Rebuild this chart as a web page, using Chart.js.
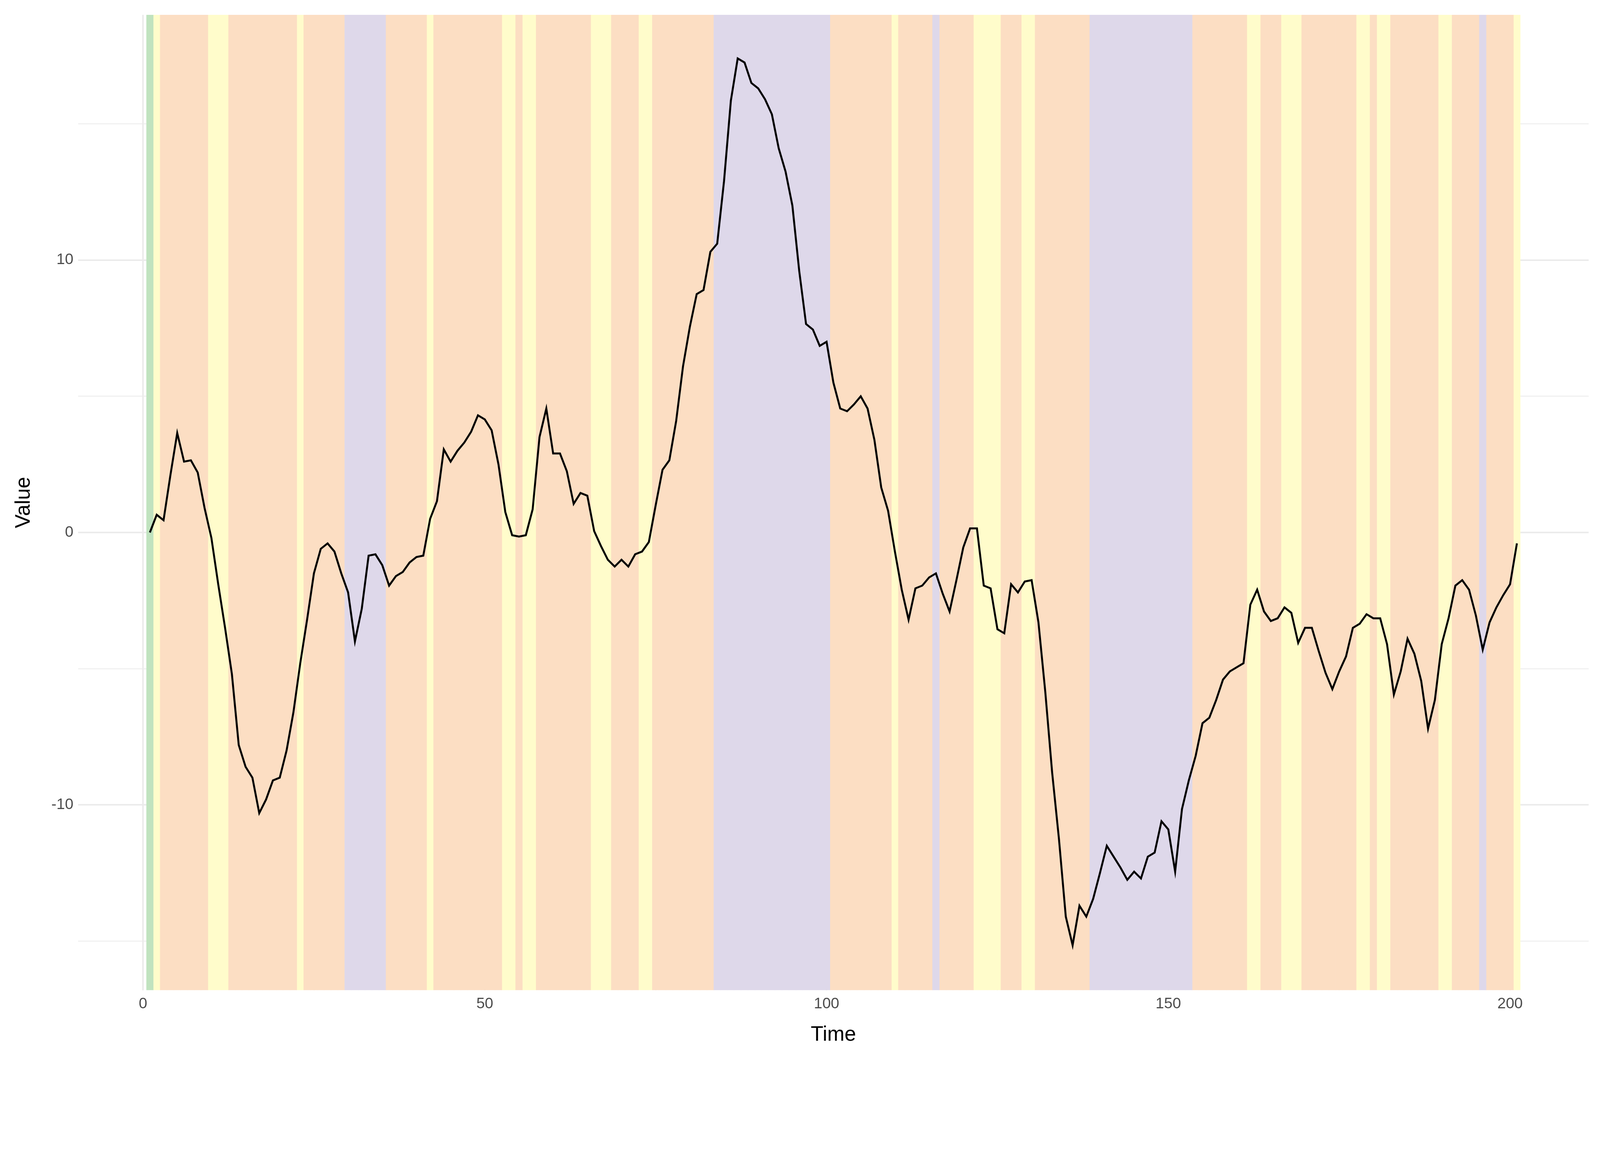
<!DOCTYPE html>
<html>
<head>
<meta charset="utf-8">
<script src="https://cdn.jsdelivr.net/npm/chart.js@4"></script>
<style>
  html, body { margin: 0; padding: 0; background: #fff; overflow: hidden; font-family: "Liberation Sans", Arial, sans-serif; }
  #wrap { position: relative; }
  #c { display: block; }
  #legend { position: absolute; left: 0; display: flex; justify-content: center; align-items: center; }
  .ltitle { color: #000; }
  .item { display: flex; align-items: center; }
  .lab { color: #1a1a1a; }
</style>
</head>
<body>
<div id="wrap">
  <canvas id="c"></canvas>
  <div id="legend"></div>
</div>
<script>
// series values, t = 1..201
const values = [
  0.0, 0.65, 0.45, 2.1, 3.65, 2.6, 2.65, 2.2, 0.9, -0.2,
  -1.9, -3.5, -5.2, -7.8, -8.6, -9.0, -10.3, -9.8, -9.1, -9.0,
  -8.0, -6.6, -4.8, -3.2, -1.5, -0.6, -0.4, -0.7, -1.5, -2.2,
  -4.0, -2.8, -0.85, -0.8, -1.2, -1.95, -1.6, -1.45, -1.1, -0.9,
  -0.85, 0.5, 1.15, 3.05, 2.6, 3.0, 3.3, 3.7, 4.3, 4.15,
  3.75, 2.5, 0.75, -0.1, -0.15, -0.1, 0.85, 3.5, 4.55, 2.9,
  2.9, 2.25, 1.05, 1.45, 1.35, 0.05, -0.5, -1.0, -1.25, -1.0,
  -1.25, -0.8, -0.7, -0.35, 1.0, 2.3, 2.65, 4.1, 6.1, 7.55,
  8.75, 8.9, 10.3, 10.6, 12.9, 15.85, 17.4, 17.25, 16.5, 16.3,
  15.9, 15.35, 14.1, 13.25, 12.0, 9.6, 7.65, 7.45, 6.85, 7.0,
  5.5, 4.55, 4.45, 4.7, 5.0, 4.55, 3.4, 1.65, 0.8, -0.7,
  -2.1, -3.2, -2.05, -1.95, -1.65, -1.5, -2.25, -2.9, -1.75, -0.55,
  0.15, 0.15, -1.95, -2.05, -3.55, -3.7, -1.9, -2.2, -1.8, -1.75,
  -3.3, -5.85, -8.8, -11.25, -14.1, -15.15, -13.7, -14.1, -13.45, -12.5,
  -11.5, -11.9, -12.3, -12.75, -12.45, -12.7, -11.9, -11.75, -10.6, -10.9,
  -12.45, -10.15, -9.1, -8.2, -7.0, -6.8, -6.15, -5.4, -5.1, -4.95,
  -4.8, -2.65, -2.1, -2.9, -3.25, -3.15, -2.75, -2.95, -4.05, -3.5,
  -3.5, -4.35, -5.15, -5.75, -5.1, -4.55, -3.5, -3.35, -3.0, -3.15,
  -3.15, -4.1, -5.95, -5.1, -3.9, -4.45, -5.45, -7.2, -6.15, -4.1,
  -3.15, -1.95, -1.75, -2.1, -3.05, -4.3, -3.3, -2.75, -2.3, -1.9,
  -0.4
];

// state of each time step, as runs [state, length]
const stateRuns = [
  ['Initial', 1], ['Unstable', 1], ['Transitional', 7], ['Unstable', 3], ['Transitional', 10],
  ['Unstable', 1], ['Transitional', 6], ['Stable', 6], ['Transitional', 6], ['Unstable', 1],
  ['Transitional', 10], ['Unstable', 2], ['Transitional', 1], ['Unstable', 2], ['Transitional', 8],
  ['Unstable', 3], ['Transitional', 4], ['Unstable', 2], ['Transitional', 9], ['Stable', 17],
  ['Transitional', 9], ['Unstable', 1], ['Transitional', 5], ['Stable', 1], ['Transitional', 5],
  ['Unstable', 4], ['Transitional', 3], ['Unstable', 2], ['Transitional', 8], ['Stable', 15],
  ['Transitional', 8], ['Unstable', 2], ['Transitional', 3], ['Unstable', 3], ['Transitional', 8],
  ['Unstable', 2], ['Transitional', 1], ['Unstable', 2], ['Transitional', 7], ['Unstable', 2],
  ['Transitional', 4], ['Stable', 1], ['Transitional', 4], ['Unstable', 1]
];

const stateNames = ['Initial', 'Stable', 'Transitional', 'Unstable'];
const stateColors = ['#C0E3BF', '#DED8EA', '#FCDEC3', '#FFFCCB'];
const xTicks = [0, 25, 50, 75, 100, 125, 150, 175, 200];
const yTicks = [-15, -10, -5, 0, 5, 10, 15];

const Y_LO = -16.8, Y_HI = 19.0;

// size everything from the real viewport
const W = window.innerWidth, H = window.innerHeight;
const k = W / 4800;
const px = v => Math.round(v * k);

const canvas = document.getElementById('c');
const chartH = Math.round(H * 0.895);
canvas.style.width = W + 'px';
canvas.style.height = chartH + 'px';
canvas.width = W;
canvas.height = chartH;

const states = [];
stateRuns.forEach(([s, n]) => { for (let i = 0; i < n; i++) states.push(s); });

const bandSets = stateNames.map((name, i) => ({
  type: 'bar',
  label: name,
  order: 2,
  data: states.map((s, j) => s === name ? { x: j + 1, y: [Y_LO, Y_HI] } : null).filter(Boolean),
  backgroundColor: stateColors[i],
  borderWidth: 0,
  barPercentage: 1.0,
  categoryPercentage: 1.0,
  grouped: false
}));

const lineSet = {
  type: 'line',
  label: 'Value',
  order: 0,
  data: values.map((v, i) => ({ x: i + 1, y: v })),
  borderColor: '#000',
  borderWidth: px(6),
  pointRadius: 0,
  tension: 0
};

const font = { family: '"Liberation Sans", Arial, sans-serif' };

new Chart(canvas, {
  data: { datasets: [...bandSets, lineSet] },
  options: {
    responsive: false,
    animation: false,
    layout: { padding: { top: px(44), right: px(34), left: px(30), bottom: 0 } },
    plugins: { legend: { display: false }, tooltip: { enabled: false } },
    scales: {
      x: {
        type: 'linear',
        offset: false,
        min: -9.5, max: 211.5,
        afterBuildTicks: s => { s.ticks = xTicks.map(v => ({ value: v })); },
        ticks: {
          font: { ...font, size: px(46) }, color: '#4d4d4d', padding: px(14),
          callback: v => (v % 50 === 0 ? v : '')
        },
        grid: {
          offset: false,
          color: '#EBEBEB',
          lineWidth: c => (c.tick && c.tick.value % 50 === 0 ? px(5) : px(2.5)),
          drawTicks: false
        },
        border: { display: false },
        title: { display: true, text: 'Time', font: { ...font, size: px(62) }, color: '#000', padding: { top: px(14) } }
      },
      y: {
        min: Y_LO, max: Y_HI,
        afterBuildTicks: s => { s.ticks = yTicks.map(v => ({ value: v })); },
        ticks: {
          font: { ...font, size: px(46) }, color: '#4d4d4d', padding: px(14),
          callback: v => (v % 10 === 0 ? v : '')
        },
        grid: {
          color: '#EBEBEB',
          lineWidth: c => (c.tick && c.tick.value % 10 === 0 ? px(5) : px(2.5)),
          drawTicks: false
        },
        border: { display: false },
        title: { display: true, text: 'Value', font: { ...font, size: px(62) }, color: '#000', padding: { bottom: px(30) } }
      }
    }
  }
});

const legend = document.getElementById('legend');
legend.style.width = W + 'px';
legend.style.top = Math.round(H * 0.945 - px(65)) + 'px';
legend.innerHTML = `<span class="ltitle" style="font-size:${px(68)}px;margin-right:${px(52)}px">State</span>` +
  stateNames.map((n, i) =>
    `<span class="item" style="margin-right:${px(52)}px"><span style="display:inline-block;width:${px(130)}px;height:${px(130)}px;margin-right:${px(52)}px;background:${stateColors[i]}"></span><span class="lab" style="font-size:${px(54)}px">${n}</span></span>`
  ).join('');
</script>
</body>
</html>
